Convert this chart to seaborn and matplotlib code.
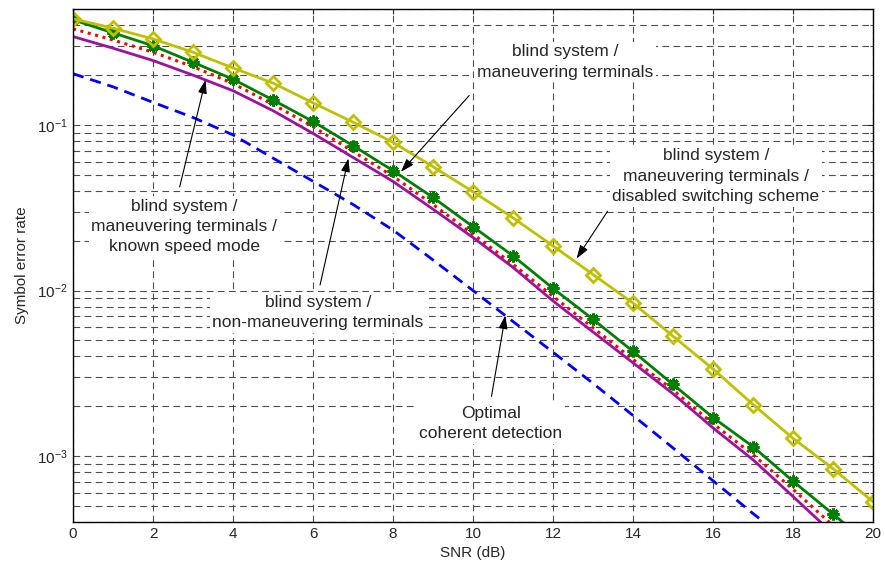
import matplotlib
matplotlib.use("Agg")
import matplotlib.pyplot as plt
import numpy as np
import pandas as pd
import seaborn as sns

# SNR axis (dB)
snr = list(range(0, 21))

# symbol error rate
ser_disabled = [0.438, 0.384, 0.331, 0.275, 0.221, 0.179, 0.136, 0.104, 0.0785, 0.056,
                0.0395, 0.0275, 0.0186, 0.0125, 0.0084, 0.0053, 0.00336, 0.00205, 0.00128,
                0.00084, 0.00053]
ser_maneuvering = [0.432, 0.360, 0.301, 0.239, 0.189, 0.1415, 0.105, 0.075, 0.053, 0.0365,
                   0.0243, 0.0162, 0.0103, 0.0067, 0.00429, 0.00271, 0.00171, 0.00114,
                   0.000705, 0.000447, 0.00028]
ser_known_speed = [0.381, 0.326, 0.275, 0.225, 0.178, 0.133, 0.0977, 0.0692, 0.0490, 0.0331,
                   0.0219, 0.0144, 0.00923, 0.00596, 0.00384, 0.00251, 0.00157, 0.00102,
                   0.00063, 0.00038]
ser_non_maneuvering = [0.342, 0.291, 0.245, 0.200, 0.161, 0.122, 0.0889, 0.0637, 0.0456, 0.0310,
                       0.0209, 0.0138, 0.00865, 0.00562, 0.00366, 0.00238, 0.00148, 0.00095,
                       0.00057, 0.00034]
ser_optimal = [0.204, 0.170, 0.137, 0.111, 0.0871, 0.0631, 0.0457, 0.0331, 0.0232, 0.0153,
               0.0100, 0.0065, 0.00424, 0.00275, 0.00176, 0.00112, 0.00071, 0.00045, 0.00029]

sns.set_style("white")
plt.rcParams["font.family"] = ["Liberation Sans", "DejaVu Sans"]
plt.rcParams["mathtext.default"] = "regular"
plt.rcParams["axes.unicode_minus"] = False

fig = plt.figure(figsize=(8.85, 5.71), dpi=100)
ax = fig.add_axes([0.0825, 0.0858, 0.904, 0.898])

sns.lineplot(x=snr[:len(ser_optimal)], y=ser_optimal, ax=ax, color="#0000ff", lw=2.0,
             linestyle=(0, (4, 2.5)))
sns.lineplot(x=snr[:len(ser_non_maneuvering)], y=ser_non_maneuvering, ax=ax,
             color="#a010a0", lw=2.0)
sns.lineplot(x=snr[:len(ser_known_speed)], y=ser_known_speed, ax=ax, color="#ff0000",
             lw=2.2, linestyle=(0, (1, 1.5)))
sns.lineplot(x=snr, y=ser_maneuvering, ax=ax, color="#008000", lw=2.0,
             marker=(8, 2, 0), markersize=8.5, markeredgewidth=2.2, markeredgecolor="#008000")
sns.lineplot(x=snr, y=ser_disabled, ax=ax, color="#c0c000", lw=2.0, marker="D",
             markersize=7, markerfacecolor="none", markeredgewidth=2.0,
             markeredgecolor="#c0c000")

ax.set_yscale("log")
ax.set_xlim(0, 20)
ax.set_ylim(4e-4, 0.5)
ax.set_xticks(range(0, 21, 2))
ax.grid(True, which="major", axis="both", color="0.3", lw=0.8, linestyle=(0, (6, 4)))
ax.grid(True, which="minor", axis="y", color="0.3", lw=0.8, linestyle=(0, (6, 4)))
ax.tick_params(which="both", direction="in", top=True, right=True, labelsize=11)
ax.tick_params(which="minor", labelleft=False)
for s in ax.spines.values():
    s.set_color("black")
    s.set_linewidth(1.0)

ax.set_xlabel("SNR (dB)", fontsize=11, labelpad=4)
ax.set_ylabel("Symbol error rate", fontsize=11, labelpad=6)

bbox = dict(boxstyle="square,pad=0.15", fc="white", ec="none")
arrow = dict(arrowstyle="-|>,head_length=0.9,head_width=0.3", color="black", lw=0.8,
             mutation_scale=9)
fs = 12.5
lsp = 1.45

ax.text(12.3, 0.24, "blind system /\nmaneuvering terminals", ha="center", va="center",
        fontsize=fs, bbox=bbox, linespacing=lsp)
ax.annotate("", xy=(8.15, 0.0506), xytext=(9.95, 0.155), arrowprops=arrow)

ax.text(16.07, 0.049, "blind system /\nmaneuvering terminals /\ndisabled switching scheme",
        ha="center", va="center", fontsize=fs, bbox=bbox, linespacing=lsp)
ax.annotate("", xy=(12.55, 0.0151), xytext=(13.4, 0.0311), arrowprops=arrow)

ax.text(2.78, 0.0244, "blind system /\nmaneuvering terminals /\nknown speed mode",
        ha="center", va="center", fontsize=fs, bbox=bbox, linespacing=lsp)
ax.annotate("", xy=(3.33, 0.194), xytext=(2.65, 0.0407), arrowprops=arrow)

ax.text(6.12, 0.0074, "blind system /\nnon-maneuvering terminals", ha="center", va="center",
        fontsize=fs, bbox=bbox, linespacing=lsp)
ax.annotate("", xy=(6.9, 0.0652), xytext=(6.16, 0.0104), arrowprops=arrow)

ax.text(10.45, 0.00158, "Optimal\ncoherent detection", ha="center", va="center",
        fontsize=fs, bbox=bbox, linespacing=lsp)
ax.annotate("", xy=(10.82, 0.00735), xytext=(10.45, 0.00221), arrowprops=arrow)

fig.savefig("out.png", dpi=100)
